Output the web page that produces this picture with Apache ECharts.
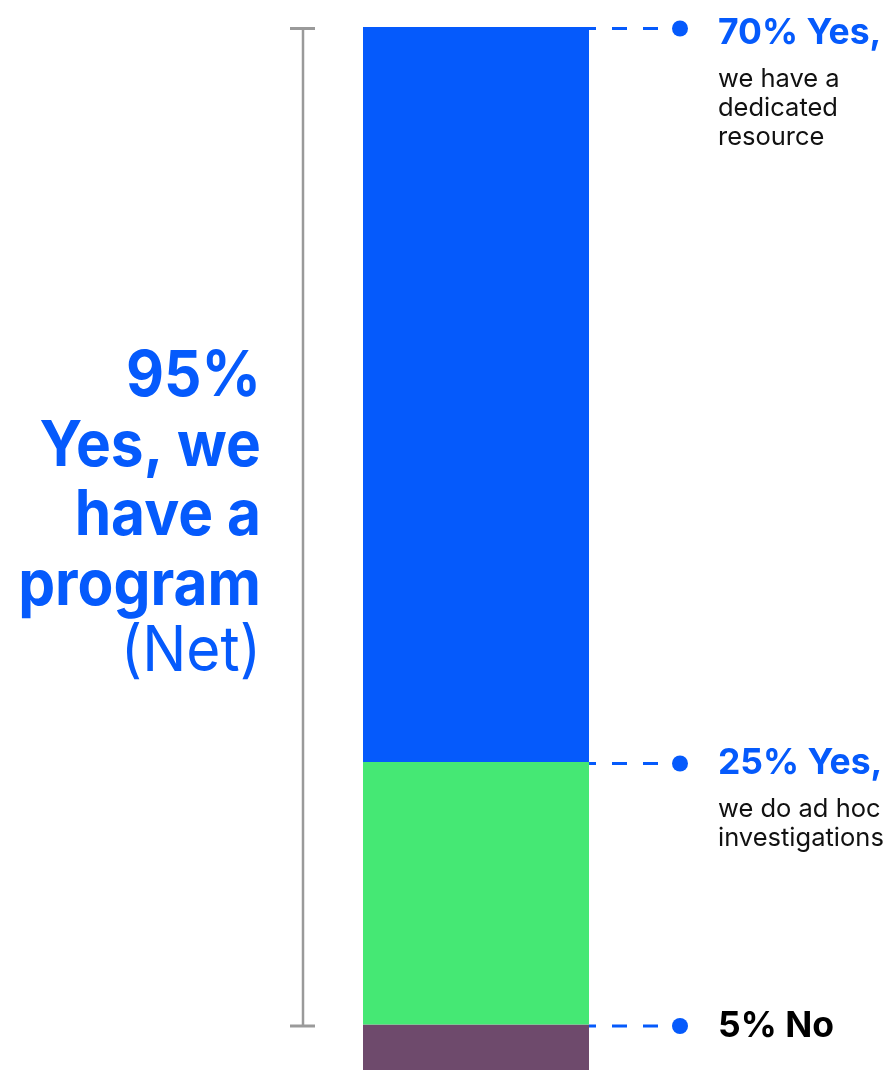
<!DOCTYPE html>
<html>
<head>
<meta charset="utf-8">
<title>Investigation program</title>
<script src="https://cdn.jsdelivr.net/npm/echarts@6/dist/echarts.min.js"></script>
<style>
  html, body { margin: 0; padding: 0; background: #ffffff; overflow: hidden; }
  #chart { width: 889px; height: 1078px; }
</style>
</head>
<body>
<div id="chart"></div>
<script>
// Survey shares, bottom of the stack first
const categories = ['Program'];
const noShare = [5];
const adHocShare = [25];
const dedicatedShare = [70];
const netYesShare = 95;

// Callout text for each segment, bottom first
const segmentHeadlines = ['5% No', '25% Yes,', '70% Yes,'];
const segmentDetails = [[], ['we do ad hoc', 'investigations'], ['we have a', 'dedicated', 'resource']];

// Net label on the left of the bracket
const netLabelLines = ['95%', 'Yes, we', 'have a', 'program'];
const netLabelNote = '(Net)';

const BLUE = '#055AFC';
const GREEN = '#45E874';
const PURPLE = '#6E4A6C';
const GREY = '#9A9A9A';
const FONT = 'Inter, "Noto Sans", sans-serif';

const chart = echarts.init(document.getElementById('chart'), null, { renderer: 'canvas' });

const seriesData = [noShare, adHocShare, dedicatedShare];
const seriesNames = ['No', 'Yes, ad hoc', 'Yes, dedicated'];
const seriesColors = [PURPLE, GREEN, BLUE];

chart.setOption({
  animation: false,
  backgroundColor: '#ffffff',
  grid: { left: 363, top: 27, width: 226, height: 1050 },
  xAxis: { type: 'category', data: categories, show: false },
  yAxis: { type: 'value', min: 0, max: 100, show: false },
  series: seriesData.map((d, i) => ({
    type: 'bar',
    name: seriesNames[i],
    stack: 'total',
    data: d,
    barWidth: '100%',
    itemStyle: { color: seriesColors[i] },
    silent: true
  }))
});

const yAt = v => chart.convertToPixel({ yAxisIndex: 0 }, v);

const graphics = [];
const barRight = 589;
const dotX = 680;
const textX = 718;

// Leader line, dot and callout for the top edge of every segment
let cumulative = 0;
seriesData.forEach((d, i) => {
  cumulative += d[0];
  const lineY = yAt(cumulative) + 1.5;
  graphics.push({
    type: 'line', silent: true,
    shape: { x1: barRight, y1: lineY, x2: dotX - 8, y2: lineY },
    style: { stroke: BLUE, lineWidth: 3, lineDash: [15, 16], lineDashOffset: 8 }
  });
  graphics.push({
    type: 'circle', silent: true,
    shape: { cx: dotX, cy: lineY, r: 8 },
    style: { fill: BLUE }
  });
  const headCenter = Math.max(lineY, 33.5);
  graphics.push({
    type: 'text', silent: true,
    style: {
      x: textX, y: headCenter, text: segmentHeadlines[i],
      font: '700 35.5px ' + FONT, fill: i === 0 ? '#000000' : BLUE,
      textAlign: 'left', textVerticalAlign: 'middle'
    }
  });
  segmentDetails[i].forEach((line, k) => {
    graphics.push({
      type: 'text', silent: true,
      style: {
        x: textX, y: headCenter + 46 + 29 * k, text: line,
        font: '400 25.5px ' + FONT, fill: '#111111',
        textAlign: 'left', textVerticalAlign: 'middle'
      }
    });
  });
});

// Bracket spanning the net "Yes" share
const bracketTop = yAt(100) + 1.5;
const bracketBottom = yAt(100 - netYesShare) + 1.5;
graphics.push({
  type: 'line', silent: true,
  shape: { x1: 303, y1: bracketTop, x2: 303, y2: bracketBottom },
  style: { stroke: GREY, lineWidth: 2.5 }
});
[bracketTop, bracketBottom].forEach(y => {
  graphics.push({
    type: 'line', silent: true,
    shape: { x1: 290, y1: y, x2: 315, y2: y },
    style: { stroke: GREY, lineWidth: 3 }
  });
});

// Net label, right-aligned next to the bracket, set slightly condensed
const netCenter = (bracketTop + bracketBottom) / 2;
const allNetLines = netLabelLines.concat([netLabelNote]);
const netLineHeight = 69.5;
const netStart = netCenter - 150;
const netRight = 261;
allNetLines.forEach((line, k) => {
  const isNote = k === allNetLines.length - 1;
  graphics.push({
    type: 'text', silent: true,
    x: netRight, y: netStart + netLineHeight * k - (isNote ? 3 : 0),
    scaleX: 0.93,
    style: {
      x: 0, y: 0, text: line,
      font: (isNote ? '400 ' : '700 ') + '63px ' + FONT, fill: BLUE,
      textAlign: 'right', textVerticalAlign: 'middle'
    }
  });
});

chart.setOption({ graphic: { elements: graphics } });
</script>
</body>
</html>
